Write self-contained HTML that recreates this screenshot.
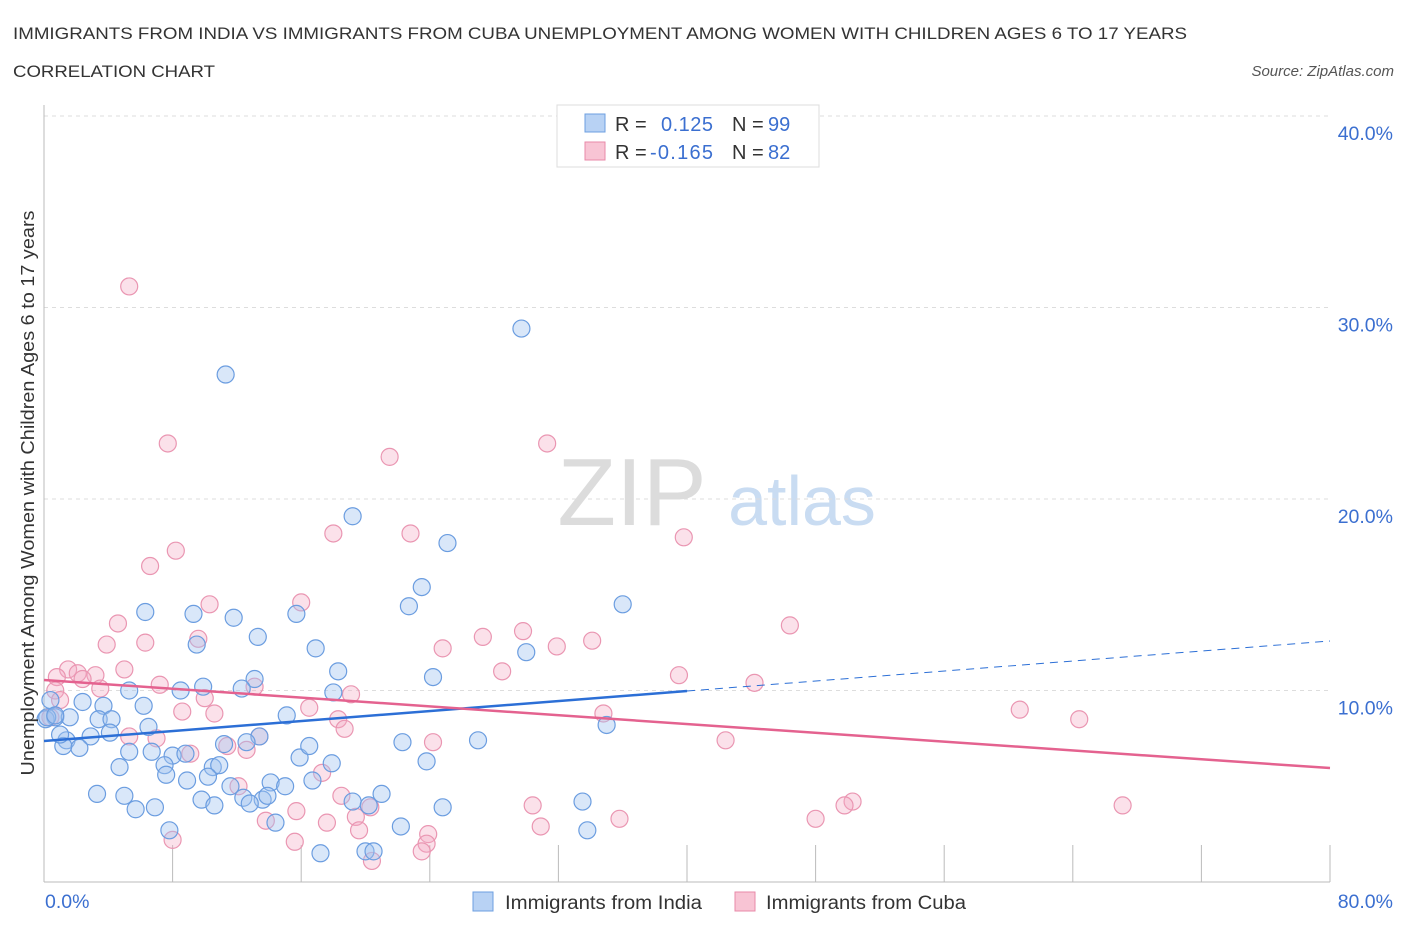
<!DOCTYPE html>
<html><head><meta charset="utf-8">
<style>
body{margin:0;background:#fff;font-family:"Liberation Sans",sans-serif;}
svg text{font-family:"Liberation Sans",sans-serif;}
</style></head>
<body>
<svg id="chart" width="1406" height="930" viewBox="0 0 1406 930" xmlns="http://www.w3.org/2000/svg">
<text x="13" y="39" font-size="17" fill="#333" textLength="1174" lengthAdjust="spacingAndGlyphs">IMMIGRANTS FROM INDIA VS IMMIGRANTS FROM CUBA UNEMPLOYMENT AMONG WOMEN WITH CHILDREN AGES 6 TO 17 YEARS</text>
<text x="13" y="77" font-size="17" fill="#333" textLength="202" lengthAdjust="spacingAndGlyphs">CORRELATION CHART</text>
<text x="1394" y="76" font-size="15" fill="#555" text-anchor="end" font-style="italic">Source: ZipAtlas.com</text>
<g>
<text x="632" y="525" font-size="96" fill="#dcdcdc" text-anchor="middle" font-family="Liberation Serif, serif">ZIP</text>
<text x="802" y="525" font-size="70" fill="#c9dcf2" text-anchor="middle">atlas</text>
</g>
<g id="grid"></g>
<g id="axes"></g>
<g id="pts"></g>
<g id="trends"></g>
<text transform="translate(34,493) rotate(-90)" font-size="18" fill="#333" text-anchor="middle" textLength="565" lengthAdjust="spacingAndGlyphs">Unemployment Among Women with Children Ages 6 to 17 years</text>
<g>
<rect x="557" y="105" width="262" height="62" fill="#fff" stroke="#ddd"/>
<g>
<rect x="585" y="114" width="20" height="18" fill="#b8d2f4" stroke="#6d9fe0"/>
<text x="615" y="131" font-size="20" fill="#333">R =</text>
<text x="661" y="131" font-size="20" fill="#3b6fd0" textLength="52">0.125</text>
<text x="732" y="131" font-size="20" fill="#333">N =</text>
<text x="768" y="131" font-size="20" fill="#3b6fd0">99</text>
</g>
<g>
<rect x="585" y="142" width="20" height="18" fill="#f8c4d4" stroke="#e88aa8"/>
<text x="615" y="159" font-size="20" fill="#333">R =</text>
<text x="650" y="159" font-size="20" fill="#3b6fd0" textLength="63">-0.165</text>
<text x="732" y="159" font-size="20" fill="#333">N =</text>
<text x="768" y="159" font-size="20" fill="#3b6fd0">82</text>
</g>
</g>
<g>
<g>
<rect x="473" y="892" width="20" height="19" fill="#b8d2f4" stroke="#6d9fe0"/>
<text x="505" y="909" font-size="19" fill="#333" textLength="197" lengthAdjust="spacingAndGlyphs">Immigrants from India</text>
</g>
<g>
<rect x="735" y="892" width="20" height="19" fill="#f8c4d4" stroke="#e88aa8"/>
<text x="766" y="909" font-size="19" fill="#333" textLength="200" lengthAdjust="spacingAndGlyphs">Immigrants from Cuba</text>
</g>
</g>
</svg>
<script>
const yTicks=[10,20,30,40];
const yTickLabels=["10.0%","20.0%","30.0%","40.0%"];
const xTicks=[0,8,16,24,32,40,48,56,64,72,80];
const xEndLabels=["0.0%","80.0%"];
const indiaX=[29.7,11.3,19.2,25.1,23.5,22.7,36.0,6.3,9.3,11.8,15.7,13.3,9.5,16.9,30.0,18.3,24.2,13.1,12.3,8.5,9.9,5.3,18.0,0.4,2.4,6.2,3.7,0.7,1.6,3.4,4.2,6.5,15.1,35.0,13.4,12.6,11.2,2.9,1.4,4.1,2.2,1.2,5.3,6.7,8.0,8.8,15.9,16.5,17.9,22.3,27.0,23.8,4.7,7.5,10.5,10.9,7.6,10.2,8.9,14.1,15.0,16.7,3.3,5.0,5.7,6.9,9.8,10.6,11.6,12.4,13.6,13.9,12.8,21.0,19.2,20.2,24.8,33.5,7.8,14.4,22.2,33.8,17.2,20.0,20.5,0.1,0.2,0.7,1.0];
const indiaY=[28.9,26.5,19.1,17.7,15.4,14.4,14.5,14.1,14.0,13.8,14.0,12.8,12.4,12.2,12.0,11.0,10.7,10.6,10.1,10.0,10.2,10.0,9.9,9.5,9.4,9.2,9.2,8.6,8.6,8.5,8.5,8.1,8.7,8.2,7.6,7.3,7.2,7.6,7.4,7.8,7.0,7.1,6.8,6.8,6.6,6.7,6.5,7.1,6.2,7.3,7.4,6.3,6.0,6.1,6.0,6.1,5.6,5.5,5.3,5.2,5.0,5.3,4.6,4.5,3.8,3.9,4.3,4.0,5.0,4.4,4.3,4.5,4.1,4.6,4.2,4.0,3.9,4.2,2.7,3.1,2.9,2.7,1.5,1.6,1.6,8.5,8.6,8.7,7.7];
const cubaX=[5.3,7.7,31.3,21.5,18.0,22.8,39.8,6.6,8.2,10.3,16.0,4.6,6.3,3.9,9.6,46.4,27.3,29.8,31.9,34.1,24.8,39.5,5.0,1.5,2.1,3.2,0.8,2.4,28.5,7.2,44.2,3.5,13.1,19.1,10.0,8.6,16.5,10.6,34.8,60.7,64.4,18.3,18.7,13.4,5.3,7.0,11.4,12.6,24.2,42.4,9.1,17.3,12.1,18.5,20.3,30.4,50.3,49.8,67.1,15.7,13.8,19.4,35.8,48.0,17.6,30.9,19.6,23.9,8.0,15.6,23.8,23.5,20.4,0.4,0.7,1.0];
const cubaY=[31.1,22.9,22.9,22.2,18.2,18.2,18.0,16.5,17.3,14.5,14.6,13.5,12.5,12.4,12.7,13.4,12.8,13.1,12.3,12.6,12.2,10.8,11.1,11.1,10.9,10.8,10.7,10.6,11.0,10.3,10.4,10.1,10.2,9.8,9.6,8.9,9.1,8.8,8.8,9.0,8.5,8.5,8.0,7.6,7.6,7.5,7.1,6.9,7.3,7.4,6.7,5.7,5.0,4.5,3.9,4.0,4.2,4.0,4.0,3.7,3.2,3.4,3.3,3.3,3.1,2.9,2.7,2.5,2.2,2.1,2.0,1.6,1.1,8.6,10.0,9.5];
const indiaTrend=[7.36,0.0653]; // intercept, slope
const cubaTrend=[10.55,-0.0575];

const NS="http://www.w3.org/2000/svg";
const X0=44,X1=1330,Y0=882,Y1=116;
const xs=v=>X0+(v/80)*(X1-X0);
const ys=v=>Y0-(v/40)*(Y0-Y1);
function mk(tag,attrs,parent){const e=document.createElementNS(NS,tag);for(const k in attrs)e.setAttribute(k,attrs[k]);parent.appendChild(e);return e;}
const grid=document.getElementById('grid'),axes=document.getElementById('axes'),pts=document.getElementById('pts'),trends=document.getElementById('trends');
yTicks.forEach((t,i)=>{
  const l=mk('line',{x1:X0,x2:X1,y1:ys(t),y2:ys(t),stroke:'#ddd','stroke-dasharray':'4,4'},grid);
  
  
  const tx=mk('text',{x:1393,y:ys(t)+24,'font-size':19.5,fill:'#3b6fd0','text-anchor':'end'},axes);
  tx.textContent=yTickLabels[i];
  
  
});
const xl=mk('line',{x1:X0,x2:X1,y1:Y0,y2:Y0,stroke:'#bbb'},axes);


const yl=mk('line',{x1:X0,x2:X0,y1:105,y2:Y0,stroke:'#bbb'},axes);


xTicks.forEach(t=>{
  const l=mk('line',{x1:xs(t),x2:xs(t),y1:845,y2:Y0,stroke:'#bbb'},axes);
  
  
});
const xa=mk('text',{x:45,y:908,'font-size':19.5,fill:'#3b6fd0'},axes);xa.textContent=xEndLabels[0];


const xb=mk('text',{x:1393,y:908,'font-size':19.5,fill:'#3b6fd0','text-anchor':'end'},axes);xb.textContent=xEndLabels[1];


cubaX.forEach((v,i)=>{
  const c=mk('circle',{cx:xs(v),cy:ys(cubaY[i]),r:8.5,fill:'rgba(244,170,195,0.35)',stroke:'#ea96b2','stroke-width':1.2},pts);
  
  
});
indiaX.forEach((v,i)=>{
  const c=mk('circle',{cx:xs(v),cy:ys(indiaY[i]),r:8.5,fill:'rgba(160,196,240,0.4)',stroke:'#6b9de0','stroke-width':1.2},pts);
  
  
});
const f=(tr,x)=>tr[0]+tr[1]*x;
const t1=mk('line',{x1:xs(0),y1:ys(f(indiaTrend,0)),x2:xs(40),y2:ys(f(indiaTrend,40)),stroke:'#2c6fd6','stroke-width':2.5},trends);


const t2=mk('line',{x1:xs(40),y1:ys(f(indiaTrend,40)),x2:xs(80),y2:ys(f(indiaTrend,80)),stroke:'#2c6fd6','stroke-width':1,'stroke-dasharray':'8,6'},trends);


const t3=mk('line',{x1:xs(0),y1:ys(f(cubaTrend,0)),x2:xs(80),y2:ys(f(cubaTrend,80)),stroke:'#e4628f','stroke-width':2.5},trends);


</script>
</body></html>
